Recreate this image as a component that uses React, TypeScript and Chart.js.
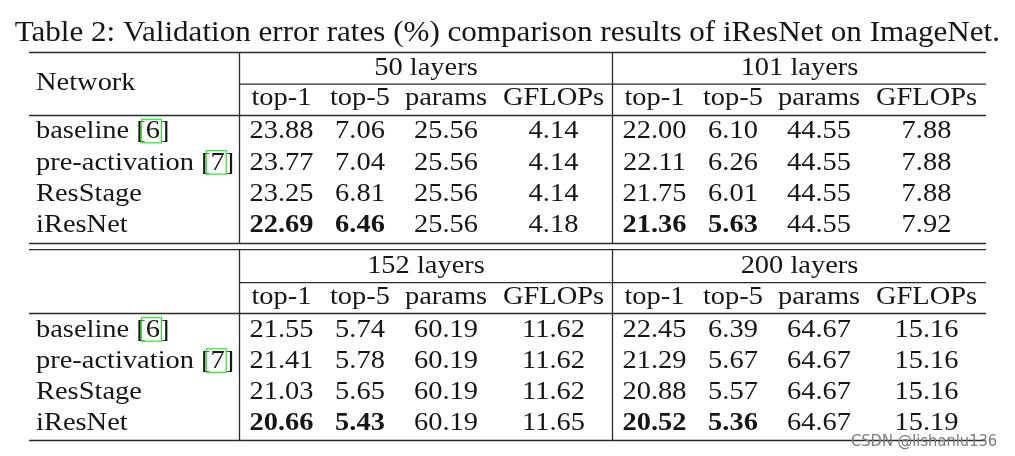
import React, { useEffect, useRef } from 'react';
import { Chart, registerables } from 'chart.js';

Chart.register(...registerables);

// ---------- data ----------
const TITLE = 'Table 2: Validation error rates (%) comparison results of iResNet on ImageNet.';
const HEADER_NETWORK = 'Network';
const networks = ['baseline', 'pre-activation', 'ResStage', 'iResNet'];
const citations = ['6', '7', '', ''];
const metrics = ['top-1', 'top-5', 'params', 'GFLOPs'];
const depths = ['50 layers', '101 layers', '152 layers', '200 layers'];

const top1_50 = [23.88, 23.77, 23.25, 22.69];
const top5_50 = [7.06, 7.04, 6.81, 6.46];
const params_50 = [25.56, 25.56, 25.56, 25.56];
const gflops_50 = [4.14, 4.14, 4.14, 4.18];

const top1_101 = [22.0, 22.11, 21.75, 21.36];
const top5_101 = [6.1, 6.26, 6.01, 5.63];
const params_101 = [44.55, 44.55, 44.55, 44.55];
const gflops_101 = [7.88, 7.88, 7.88, 7.92];

const top1_152 = [21.55, 21.41, 21.03, 20.66];
const top5_152 = [5.74, 5.78, 5.65, 5.43];
const params_152 = [60.19, 60.19, 60.19, 60.19];
const gflops_152 = [11.62, 11.62, 11.62, 11.65];

const top1_200 = [22.45, 21.29, 20.88, 20.52];
const top5_200 = [6.39, 5.67, 5.57, 5.36];
const params_200 = [64.67, 64.67, 64.67, 64.67];
const gflops_200 = [15.16, 15.16, 15.16, 15.19];

const WATERMARK = 'CSDN @lishanlu136';

// ---------- layout (positions / styles) ----------
const W = 1015;
const H = 456;
const SERIF = '"Liberation Serif", "DejaVu Serif", serif';
const TABLE_FONT = 25;
const TITLE_FONT = 30;
const TEXT_COLOR = '#161616';
const RULE_COLOR = '#2b2b2b';

const LEFT = 29;
const RIGHT = 986;
const VLINE1 = 239.5;
const VLINE2 = 612.5;
const LABEL_X = 36;
const LEFT_COLS = [281.5, 360, 446, 553.5];
const RIGHT_COLS = [654.5, 733, 819, 926.5];
const GROUP_CENTERS = [426, 799.5];

const blocks = [
  {
    depthIdx: [0, 1],
    groupBase: 75,
    headBase: 105,
    rowBase: [138.3, 169.6, 201, 232.3],
    ruleTop: 52.5,
    ruleGroup: 84.2,
    ruleHead: 115.5,
    ruleBottom: [243.5],
    vTop: 52.5,
    vBottom: 243.5,
    networkLabel: true,
  },
  {
    depthIdx: [2, 3],
    groupBase: 272.5,
    headBase: 304,
    rowBase: [336.7, 367.8, 399.3, 430.4],
    ruleTop: 249.7,
    ruleGroup: 282.7,
    ruleHead: 313.5,
    ruleBottom: [440.5],
    vTop: 249.7,
    vBottom: 441,
    networkLabel: false,
  },
];

const series = [
  [top1_50, top5_50, params_50, gflops_50],
  [top1_101, top5_101, params_101, gflops_101],
  [top1_152, top5_152, params_152, gflops_152],
  [top1_200, top5_200, params_200, gflops_200],
];

const tablePlugin = {
  id: 'tablePlugin',
  beforeDraw(chart: any) {
    const ctx = chart.ctx as CanvasRenderingContext2D;
    ctx.save();
    ctx.fillStyle = '#ffffff';
    ctx.fillRect(0, 0, chart.width, chart.height);
    ctx.restore();
  },
  afterDraw(chart: any) {
    const ctx = chart.ctx as CanvasRenderingContext2D;
    const xs = chart.scales.x;
    const ys = chart.scales.y;
    const px = (v: number) => xs.getPixelForValue(v);
    const py = (v: number) => ys.getPixelForValue(v);

    const font = (size: number, bold = false) => `${bold ? 'bold ' : ''}${size}px ${SERIF}`;

    ctx.save();
    ctx.font = font(TABLE_FONT);
    const sxT = 158 / ctx.measureText('pre-activation').width;
    ctx.font = font(TITLE_FONT);
    const sxTitle = (1000 - 14.7) / ctx.measureText(TITLE).width;
    ctx.restore();

    const text = (
      s: string,
      x: number,
      y: number,
      align: 'left' | 'center',
      f: string,
      sx: number,
      color = TEXT_COLOR,
    ) => {
      ctx.save();
      ctx.font = f;
      ctx.fillStyle = color;
      ctx.textBaseline = 'alphabetic';
      ctx.textAlign = 'left';
      const w = ctx.measureText(s).width * sx;
      const x0 = align === 'center' ? px(x) - w / 2 : px(x);
      ctx.translate(x0, py(y));
      ctx.scale(sx, 1);
      ctx.fillText(s, 0, 0);
      ctx.restore();
      return w;
    };

    const hline = (x1: number, x2: number, y: number, lw = 1.3) => {
      ctx.save();
      ctx.strokeStyle = RULE_COLOR;
      ctx.lineWidth = lw;
      ctx.beginPath();
      ctx.moveTo(px(x1), py(y));
      ctx.lineTo(px(x2), py(y));
      ctx.stroke();
      ctx.restore();
    };
    const vline = (x: number, y1: number, y2: number, lw = 1.3) => {
      ctx.save();
      ctx.strokeStyle = RULE_COLOR;
      ctx.lineWidth = lw;
      ctx.beginPath();
      ctx.moveTo(px(x), py(y1));
      ctx.lineTo(px(x), py(y2));
      ctx.stroke();
      ctx.restore();
    };

    // title
    text(TITLE, 14.7, 40.7, 'left', font(TITLE_FONT), sxTitle);

    blocks.forEach((b) => {
      // rules
      hline(LEFT, RIGHT, b.ruleTop);
      hline(VLINE1, RIGHT, b.ruleGroup);
      hline(LEFT, RIGHT, b.ruleHead, 1.6);
      b.ruleBottom.forEach((y) => hline(LEFT, RIGHT, y, 1.5));
      vline(VLINE1, b.vTop, b.vBottom);
      vline(VLINE2, b.vTop, b.vBottom);

      if (b.networkLabel) {
        text(HEADER_NETWORK, LABEL_X, 90, 'left', font(TABLE_FONT), sxT);
      }

      b.depthIdx.forEach((di, gi) => {
        const cols = gi === 0 ? LEFT_COLS : RIGHT_COLS;
        text(depths[di], GROUP_CENTERS[gi], b.groupBase, 'center', font(TABLE_FONT), sxT);
        metrics.forEach((m, mi) => {
          text(m, cols[mi], b.headBase, 'center', font(TABLE_FONT), sxT);
        });
        const data = series[di];
        data.forEach((vals, mi) => {
          const best = mi < 2 ? Math.min(...vals) : null;
          vals.forEach((v, ri) => {
            const bold = best !== null && v === best;
            text(v.toFixed(2), cols[mi], b.rowBase[ri], 'center', font(TABLE_FONT, bold), sxT);
          });
        });
      });

      // row labels with citations
      networks.forEach((n, ri) => {
        const y = b.rowBase[ri];
        if (!citations[ri]) {
          text(n, LABEL_X, y, 'left', font(TABLE_FONT), sxT);
          return;
        }
        const f = font(TABLE_FONT);
        let x = LABEL_X;
        x += text(n + ' ', x, y, 'left', f, sxT);
        const bw = text('[', x, y, 'left', f, sxT);
        const dx = x + bw;
        const dw = text(citations[ri], dx, y, 'left', f, sxT);
        text(']', dx + dw, y, 'left', f, sxT);
        // green link box
        ctx.save();
        ctx.strokeStyle = '#22ee22';
        ctx.lineWidth = 1.2;
        ctx.strokeRect(px(x + bw * 0.55), py(y - 19), dw + bw * 0.6, 23.5);
        ctx.restore();
      });
    });

    // watermark
    text(WATERMARK, 851, 445.5, 'left', '15px "DejaVu Sans", "Liberation Sans", sans-serif', 0.98, '#7c7c7c');
  },
};

export default function App() {
  const ref = useRef<HTMLCanvasElement | null>(null);

  useEffect(() => {
    document.body.style.margin = '0';
    const canvas = ref.current;
    if (!canvas) return;
    const chart = new Chart(canvas, {
      type: 'scatter',
      data: { datasets: [{ data: [], pointRadius: 0 }] },
      options: {
        responsive: false,
        animation: false,
        devicePixelRatio: 1,
        layout: { padding: 0 },
        plugins: { legend: { display: false }, tooltip: { enabled: false } },
        scales: {
          x: { type: 'linear', min: 0, max: W, display: false },
          y: { type: 'linear', min: 0, max: H, reverse: true, display: false },
        },
      },
      plugins: [tablePlugin],
    });
    return () => chart.destroy();
  }, []);

  return (
    <div style={{ width: W, height: H, background: '#fff' }}>
      <canvas ref={ref} width={W} height={H} style={{ width: W, height: H, display: 'block' }} />
    </div>
  );
}
